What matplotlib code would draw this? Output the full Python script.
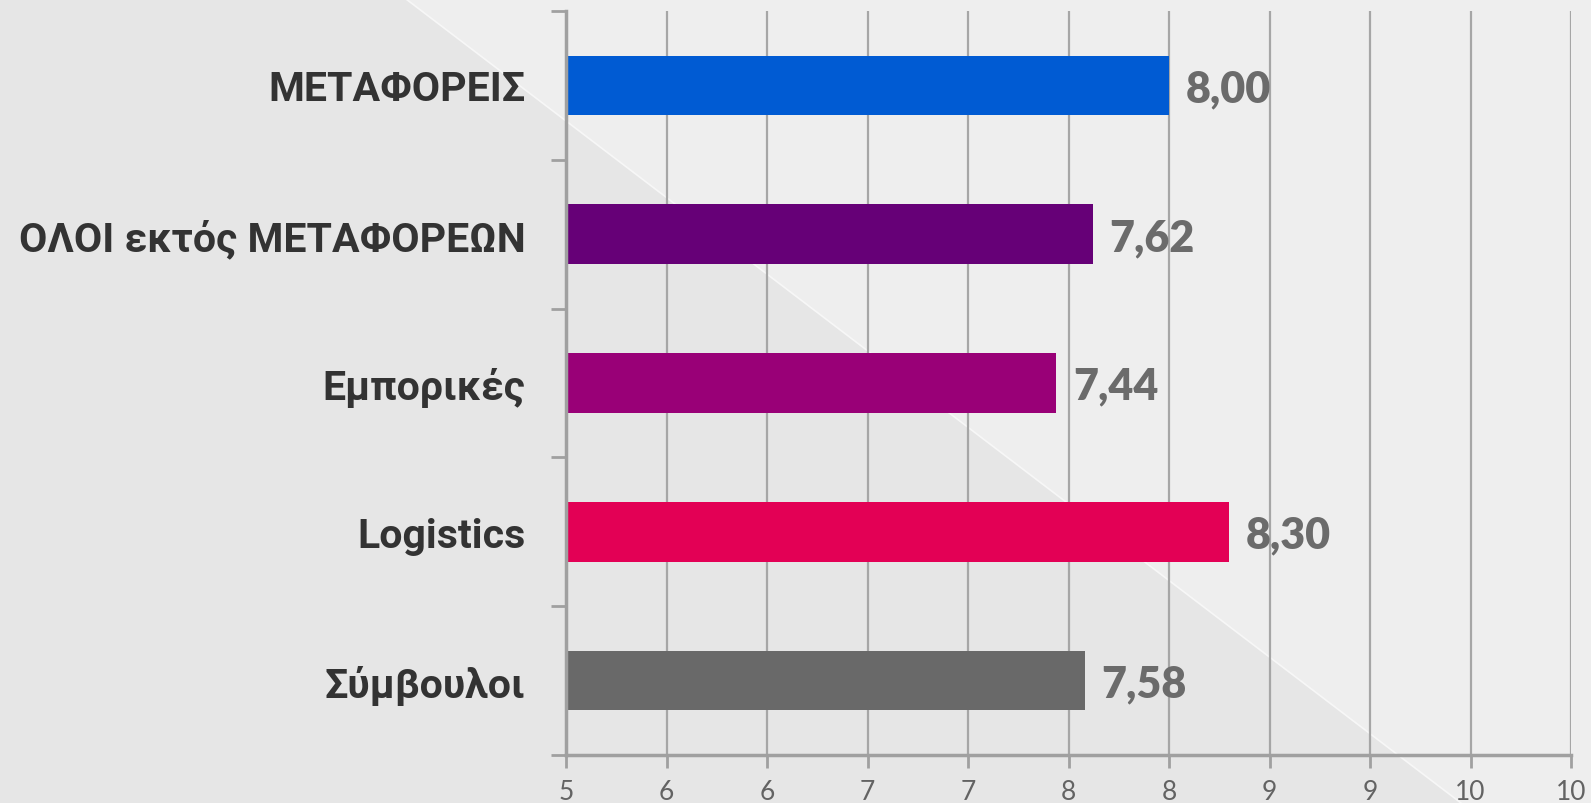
import matplotlib.pyplot as plt
from matplotlib.patches import Polygon

# data
categories = ['ΜΕΤΑΦΟΡΕΙΣ', 'ΟΛΟΙ εκτός ΜΕΤΑΦΟΡΕΩΝ', 'Εμπορικές', 'Logistics', 'Σύμβουλοι']
values = [8.00, 7.62, 7.44, 8.30, 7.58]
bar_colors = ['#005bd3', '#660077', '#990077', '#e30055', '#696969']
x_ticks = [5, 5.5, 6, 6.5, 7, 7.5, 8, 8.5, 9, 9.5, 10]
x_tick_labels = ['5', '6', '6', '7', '7', '8', '8', '9', '9', '10', '10']

W, H = 1591, 804
fig = plt.figure(figsize=(W / 100, H / 100), dpi=100)
fig.patch.set_facecolor('#e6e6e6')

# background: lighter triangle on the upper right with a thin bright edge
bg = fig.add_axes([0, 0, 1, 1], zorder=-10)
bg.set_xlim(0, W)
bg.set_ylim(H, 0)
bg.axis('off')
bg.add_patch(Polygon([(406, 0), (W, 0), (W, H), (1461, H)], closed=True,
                     facecolor='#eeeeee', edgecolor='none'))
bg.plot([406, 1461], [0, H], color='#f7f7f7', lw=1.2)

ax = fig.add_axes([566 / W, 48 / H, 1005 / W, 744 / H])
ax.set_facecolor('none')

y = list(range(len(categories)))
ax.barh(y, values, height=0.4, color=bar_colors, zorder=3, left=0)
ax.set_xlim(5, 10)
ax.set_ylim(len(categories) - 0.5, -0.5)

for yi, v in zip(y, values):
    ax.annotate(f'{v:.2f}'.replace('.', ','), (v, yi), xytext=(12, -2),
                textcoords='offset points', va='center', ha='left',
                fontsize=31, fontweight='heavy', color='#6b6b6b', family='Lato',
                zorder=4)

ax.set_yticks(y)
ax.set_yticklabels(categories, fontsize=29.5, fontweight='bold', color='#333333',
                   family=['Roboto', 'DejaVu Sans'])
ax.tick_params(axis='y', which='major', length=0, pad=29)
ax.set_yticks([i - 0.5 for i in range(len(categories) + 1)], minor=True)
ax.tick_params(axis='y', which='minor', length=11, width=2, color='#a0a0a0')

ax.set_xticks(x_ticks)
ax.set_xticklabels(x_tick_labels, fontsize=19, color='#636363', family='Lato')
ax.tick_params(axis='x', length=9, width=2, color='#a0a0a0', pad=8)

ax.grid(axis='x', color='#a6a6a6', lw=1.6, zorder=1)
for s in ['top', 'right']:
    ax.spines[s].set_visible(False)
for s in ['left', 'bottom']:
    ax.spines[s].set_color('#a0a0a0')
    ax.spines[s].set_linewidth(2.5)
    ax.spines[s].set_zorder(5)

fig.savefig('out.png', dpi=100, facecolor=fig.get_facecolor())
